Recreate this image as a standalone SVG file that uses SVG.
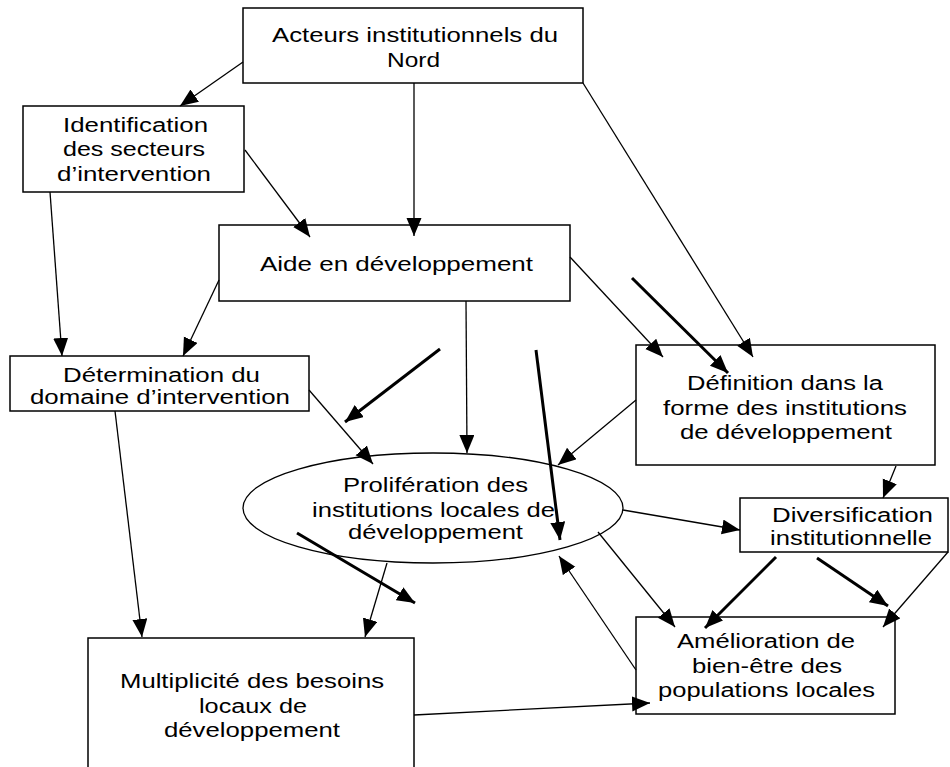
<svg xmlns="http://www.w3.org/2000/svg" width="950" height="767" viewBox="0 0 950 767">
<style>
.box{fill:#fff;stroke:#000;stroke-width:1.5}
.t{font-family:"Liberation Sans",Arial,sans-serif;font-size:20px;fill:#000}
.c{stroke:#000;stroke-width:1.3;fill:none;marker-end:url(#ah)}
.k{stroke:#000;stroke-width:3;fill:none;marker-end:url(#ah)}
</style>
<defs>
<marker id="ah" markerUnits="userSpaceOnUse" markerWidth="19" markerHeight="16" refX="18" refY="7.5" orient="auto" viewBox="0 0 19 16">
<path d="M0,0 L18,7.5 L0,15 z" fill="#000"/>
</marker>
</defs>
<rect width="950" height="767" fill="#fff"/>
<g id="n-acteurs">
<rect class="box" x="243" y="8" width="340" height="75"/>
<text class="t" x="272" y="42" textLength="286" lengthAdjust="spacingAndGlyphs">Acteurs institutionnels du</text>
<text class="t" x="387" y="67" textLength="53" lengthAdjust="spacingAndGlyphs">Nord</text>
</g>
<g id="n-identification">
<rect class="box" x="23" y="106" width="221" height="86"/>
<text class="t" x="63" y="132" textLength="145" lengthAdjust="spacingAndGlyphs">Identification</text>
<text class="t" x="63" y="156" textLength="142" lengthAdjust="spacingAndGlyphs">des secteurs</text>
<text class="t" x="57" y="181" textLength="154" lengthAdjust="spacingAndGlyphs">d’intervention</text>
</g>
<g id="n-aide">
<rect class="box" x="219" y="225" width="351" height="76"/>
<text class="t" x="260" y="271" textLength="273" lengthAdjust="spacingAndGlyphs">Aide en développement</text>
</g>
<g id="n-determination">
<rect class="box" x="10" y="356" width="299" height="55"/>
<text class="t" x="63" y="382" textLength="197" lengthAdjust="spacingAndGlyphs">Détermination du</text>
<text class="t" x="30" y="404" textLength="260" lengthAdjust="spacingAndGlyphs">domaine d’intervention</text>
</g>
<g id="n-definition">
<rect class="box" x="636" y="345" width="299" height="120"/>
<text class="t" x="687" y="390" textLength="196" lengthAdjust="spacingAndGlyphs">Définition dans la</text>
<text class="t" x="663" y="415" textLength="244" lengthAdjust="spacingAndGlyphs">forme des institutions</text>
<text class="t" x="680" y="439" textLength="212" lengthAdjust="spacingAndGlyphs">de développement</text>
</g>
<g id="n-proliferation">
<ellipse cx="433" cy="508" rx="190" ry="55" fill="none" stroke="#000" stroke-width="1.3"/>
<text class="t" x="343" y="492" textLength="185" lengthAdjust="spacingAndGlyphs">Prolifération des</text>
<text class="t" x="312" y="517" textLength="243" lengthAdjust="spacingAndGlyphs">institutions locales de</text>
<text class="t" x="348" y="539" textLength="175" lengthAdjust="spacingAndGlyphs">développement</text>
</g>
<g id="n-diversification">
<rect class="box" x="740" y="498" width="208" height="54"/>
<text class="t" x="772" y="522" textLength="161" lengthAdjust="spacingAndGlyphs">Diversification</text>
<text class="t" x="770" y="545" textLength="162" lengthAdjust="spacingAndGlyphs">institutionnelle</text>
</g>
<g id="n-amelioration">
<rect class="box" x="636" y="617" width="259" height="97"/>
<text class="t" x="677" y="648" textLength="178" lengthAdjust="spacingAndGlyphs">Amélioration de</text>
<text class="t" x="692" y="673" textLength="150" lengthAdjust="spacingAndGlyphs">bien-être des</text>
<text class="t" x="658" y="697" textLength="217" lengthAdjust="spacingAndGlyphs">populations locales</text>
</g>
<g id="n-multiplicite">
<rect class="box" x="88" y="638" width="326" height="140"/>
<text class="t" x="120" y="688" textLength="264" lengthAdjust="spacingAndGlyphs">Multiplicité des besoins</text>
<text class="t" x="199" y="713" textLength="108" lengthAdjust="spacingAndGlyphs">locaux de</text>
<text class="t" x="164" y="737" textLength="176" lengthAdjust="spacingAndGlyphs">développement</text>
</g>
<g id="connectors">
<path class="c" d="M243,62 L180,106"/>
<path class="c" d="M414,83 L414,236"/>
<path class="c" d="M245,150 L310,237"/>
<path class="c" d="M583,83 L753,357"/>
<path class="c" d="M50,192 L62,356"/>
<path class="c" d="M219,280 L183,356"/>
<path class="c" d="M570,257 L663,357"/>
<path class="k" d="M632,278 L728,373"/>
<path class="k" d="M440,349 L345,422"/>
<path class="c" d="M466,301 L467,453"/>
<path class="k" d="M536,350 L560,540"/>
<path class="c" d="M636,400 L558,465"/>
<path class="c" d="M309,390 L373,464"/>
<path class="c" d="M896,466 L883,498"/>
<path class="c" d="M623,510 L740,530"/>
<path class="c" d="M598,532 L675,627"/>
<path class="k" d="M776,557 L705,628"/>
<path class="k" d="M817,558 L888,606"/>
<path class="c" d="M948,552 L883,627"/>
<path class="c" d="M636,670 L559,556"/>
<path class="c" d="M414,715 L650,703"/>
<path class="c" d="M115,411 L142,637"/>
<path class="c" d="M387,563 L365,637"/>
<path class="k" d="M297,533 L415,603"/>
</g>
</svg>
